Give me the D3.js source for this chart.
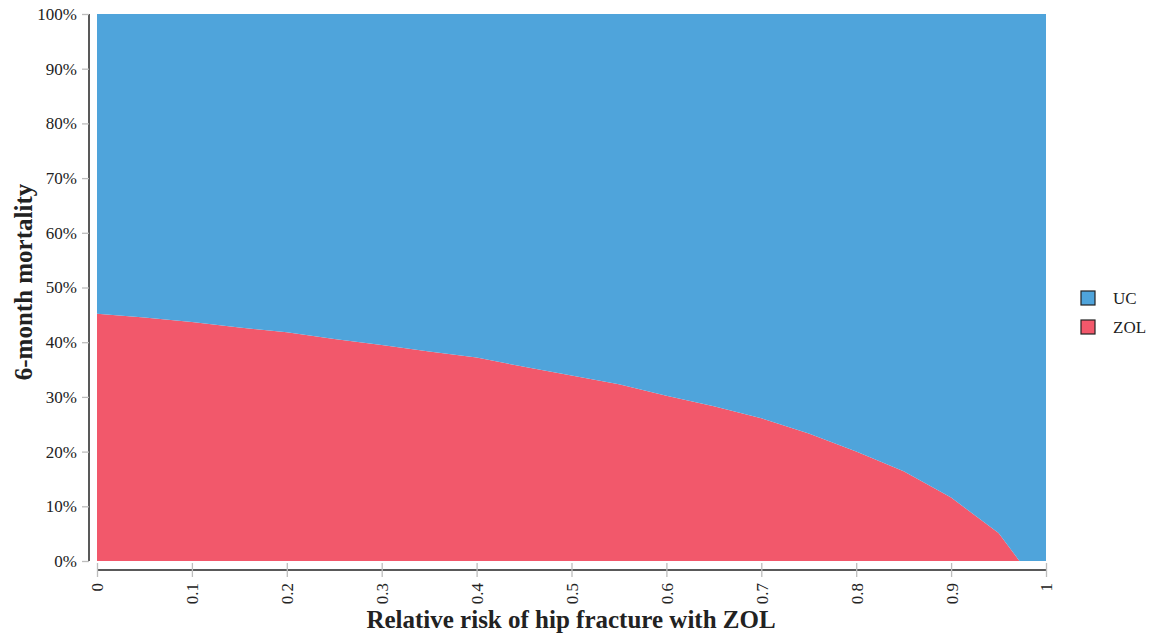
<!doctype html>
<html>
  <head>
    <script src="https://cdnjs.cloudflare.com/ajax/libs/d3/7.8.5/d3.min.js"></script>
    <style>
      body { margin: 0; background: #fff; }
      text { font-family: "Liberation Serif", "DejaVu Serif", serif; fill: #222; }
      .tick line { stroke: #bdbdbd; stroke-width: 1.3; }
      .domain { stroke: #222; stroke-width: 1.5; }
      .tick text { font-size: 17px; }
      .title { font-size: 25px; font-weight: bold; }
      .legend text { font-size: 17px; }
    </style>
  </head>
  <body>
    <svg id="chart" width="1151" height="638"></svg>
    <script>
      // relative risk of hip fracture with ZOL
      var relRisk = [0, 0.05, 0.1, 0.15, 0.2, 0.25, 0.3, 0.35, 0.4, 0.45, 0.5,
                     0.55, 0.6, 0.65, 0.7, 0.75, 0.8, 0.85, 0.9, 0.95, 0.972, 1];
      // share of simulations where ZOL is optimal (%)
      var zolShare = [45.2, 44.5, 43.7, 42.7, 41.8, 40.6, 39.5, 38.3, 37.2, 35.5, 33.9,
                      32.3, 30.2, 28.3, 26.1, 23.3, 20.0, 16.4, 11.6, 5.1, 0, 0];
      var strategies = ["ZOL", "UC"];
      var legendOrder = ["UC", "ZOL"];
      var colors = { UC: "#4fa4db", ZOL: "#f2586b" };
      var xTicks = [0, 0.1, 0.2, 0.3, 0.4, 0.5, 0.6, 0.7, 0.8, 0.9, 1];
      var yTicks = [0, 0.1, 0.2, 0.3, 0.4, 0.5, 0.6, 0.7, 0.8, 0.9, 1];

      var rows = relRisk.map((r, i) => ({ rr: r, ZOL: zolShare[i], UC: 100 - zolShare[i] }));

      var svg = d3.select("#chart");
      var x = d3.scaleLinear().domain([0, 1]).range([97, 1046]);
      var y = d3.scaleLinear().domain([0, 100]).range([561, 14]);

      var series = d3.stack().keys(strategies)(rows);
      var area = d3.area()
        .x(d => x(d.data.rr))
        .y0(d => y(d[0]))
        .y1(d => y(d[1]));

      svg.append("g").selectAll("path")
        .data(series)
        .enter()
        .append("path")
          .attr("d", area)
          .attr("fill", d => colors[d.key]);

      var yAxis = d3.axisLeft(d3.scaleLinear().domain([0, 1]).range(y.range()))
        .tickValues(yTicks)
        .tickFormat(d3.format(".0%"))
        .tickSize(7)
        .tickPadding(5);
      var gy = svg.append("g")
        .attr("transform", "translate(89,0)")
        .call(yAxis)
        .attr("font-family", null)
        .attr("font-size", null);
      gy.select(".domain").attr("d", "M0," + y(100) + "V" + y(0));

      var xAxis = d3.axisBottom(x)
        .tickValues(xTicks)
        .tickFormat(d => d3.format("")(d))
        .tickSize(7);
      var gx = svg.append("g")
        .attr("transform", "translate(0,570)")
        .call(xAxis)
        .attr("font-family", null)
        .attr("font-size", null);
      gx.select(".domain").attr("d", "M" + x(0) + ",0H" + x(1));
      gx.selectAll(".tick line").attr("y1", -7);
      gx.selectAll(".tick text")
        .attr("transform", "rotate(-90)")
        .attr("x", -13)
        .attr("y", 0)
        .attr("dy", "0.35em")
        .attr("text-anchor", "end");

      svg.append("text")
        .attr("class", "title")
        .attr("x", 571)
        .attr("y", 628)
        .attr("text-anchor", "middle")
        .text("Relative risk of hip fracture with ZOL");

      svg.append("text")
        .attr("class", "title")
        .attr("transform", "translate(32,282) rotate(-90)")
        .attr("text-anchor", "middle")
        .text("6-month mortality");

      var legend = svg.append("g").attr("class", "legend")
        .selectAll("g")
        .data(legendOrder)
        .enter()
        .append("g")
          .attr("transform", (d, i) => "translate(1081," + (291 + i * 29) + ")");
      legend.append("rect")
        .attr("width", 14)
        .attr("height", 14)
        .attr("fill", d => colors[d])
        .attr("stroke", "#222")
        .attr("stroke-width", 1.2);
      legend.append("text")
        .attr("x", 32)
        .attr("y", 7)
        .attr("dy", "0.35em")
        .text(d => d);
    </script>
  </body>
</html>
